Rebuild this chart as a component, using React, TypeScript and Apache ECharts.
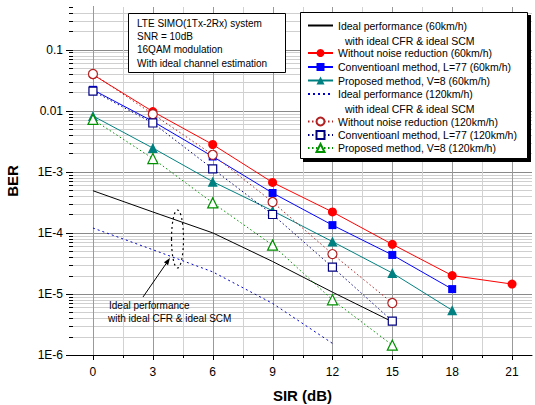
import React, { useEffect, useRef } from 'react';
import * as echarts from 'echarts';

// ---- data ----
const sirDb = [0, 3, 6, 9, 12, 15, 18, 21];
const ber60Ideal = [4.9e-4, 2.2e-4, 1.0e-4, 3.4e-5, 1.07e-5, 3.5e-6];
const ber60Without = [0.039, 0.0097, 0.0028, 6.7e-4, 2.2e-4, 6.5e-5, 2.0e-5, 1.45e-5];
const ber60Conv = [0.022, 0.0067, 1.78e-3, 4.5e-4, 1.34e-4, 4.35e-5, 1.2e-5];
const ber60Prop = [0.0082, 2.45e-3, 6.9e-4, 2.3e-4, 7.2e-5, 2.2e-5, 5.4e-6];
const ber120Ideal = [1.2e-4, 5.3e-5, 2.3e-5, 7.0e-6, 1.55e-6];
const ber120Without = [0.04, 0.0088, 1.9e-3, 3.2e-4, 4.5e-5, 7.1e-6];
const ber120Conv = [0.021, 6.3e-3, 1.12e-3, 2.0e-4, 2.75e-5, 3.6e-6];
const ber120Prop = [0.0072, 1.65e-3, 3.1e-4, 6.3e-5, 8e-6, 1.45e-6];

const xTickValues = [0, 3, 6, 9, 12, 15, 18, 21];
const yDecades = [1e-6, 1e-5, 1e-4, 1e-3, 1e-2, 1e-1];
const yTickLabels = ['1E-6', '1E-5', '1E-4', '1E-3', '0.01', '0.1'];

const names = {
  ideal60: 'Ideal performance (60km/h)',
  without60: 'Without noise reduction (60km/h)',
  conv60: 'Conventioanl method, L=77 (60km/h)',
  prop60: 'Proposed method, V=8 (60km/h)',
  ideal120: 'Ideal performance (120km/h)',
  without120: 'Without noise reduction (120km/h)',
  conv120: 'Conventioanl method, L=77 (120km/h)',
  prop120: 'Proposed method, V=8 (120km/h)',
};

const infoLines = [
  'LTE SIMO(1Tx-2Rx) system',
  'SNR = 10dB',
  '16QAM modulation',
  'With ideal channel estimation',
];

const X_MIN = -1;
const X_MAX = 22;
const Y_MIN = 1e-6;
const Y_MAX = 0.5;

const FONT = 'Arial, "Liberation Sans", sans-serif';

function pairs(vals: number[]) {
  return vals.map((v, i) => [sirDb[i], v]);
}

function buildGridData() {
  const items: any[] = [];
  // horizontal: kind 0 major line+tick, 1 minor line+tick, 2 minor tick only, 5 major tick only
  yDecades.forEach((d, i) => {
    items.push({ value: [0, d, i === 0 ? 5 : 0] });
    for (let m = 2; m <= 9; m++) {
      const v = m * d;
      if (v > Y_MAX + 1e-9) break;
      items.push({ value: [0, v, Math.abs(v - Y_MAX) < 1e-9 ? 2 : 1] });
    }
  });
  // vertical: kind 3 major, 4 minor
  xTickValues.forEach((x) => {
    items.push({ value: [x, Y_MIN, 3] });
    if (x + 1.5 < X_MAX) items.push({ value: [x + 1.5, Y_MIN, 4] });
  });
  return items;
}

export default function App() {
  const ref = useRef<HTMLDivElement>(null);

  useEffect(() => {
    document.body.style.margin = '0';
    const chart = echarts.init(ref.current!, null, { renderer: 'svg' });

    const lineSeries = (
      name: string,
      vals: number[],
      color: string,
      symbol: string,
      size: number,
      dash: any,
      fillColor?: string
    ) => ({
      name,
      type: 'line',
      data: pairs(vals),
      z: 3,
      symbol,
      symbolSize: size,
      showSymbol: symbol !== 'none',
      lineStyle: { color, width: 1, type: dash },
      itemStyle: fillColor
        ? { color: fillColor, borderColor: color, borderWidth: 1.2 }
        : { color, borderColor: color, borderWidth: 0 },
      emphasis: { disabled: true },
    });

    const series: any[] = [
      {
        type: 'custom',
        name: 'grid',
        silent: true,
        z: 1,
        clip: false,
        data: buildGridData(),
        encode: { x: 0, y: 1 },
        renderItem: (params: any, api: any) => {
          const cs = params.coordSys;
          const kind = api.value(2);
          const pt = api.coord([api.value(0), api.value(1)]);
          const children: any[] = [];
          if (kind === 0 || kind === 1 || kind === 2 || kind === 5) {
            const y = Math.round(pt[1]) + 0.5;
            if (kind === 0 || kind === 1) {
              children.push({
                type: 'line',
                shape: { x1: cs.x, y1: y, x2: cs.x + cs.width, y2: y },
                style: { stroke: kind === 0 ? '#8a8a8a' : '#cfcfcf', lineWidth: 1 },
              });
            }
            const len = kind === 0 || kind === 5 ? 7 : 4;
            children.push({
              type: 'line',
              shape: { x1: cs.x - len, y1: y, x2: cs.x, y2: y },
              style: { stroke: '#000', lineWidth: 1 },
            });
          } else {
            const x = Math.round(pt[0]) + 0.5;
            children.push({
              type: 'line',
              shape: { x1: x, y1: cs.y, x2: x, y2: cs.y + cs.height },
              style: { stroke: kind === 3 ? '#9a9a9a' : '#d2d2d2', lineWidth: 1 },
            });
            const len = kind === 3 ? 5 : 3;
            children.push({
              type: 'line',
              shape: { x1: x, y1: cs.y + cs.height, x2: x, y2: cs.y + cs.height + len },
              style: { stroke: '#000', lineWidth: 1 },
            });
          }
          return { type: 'group', children };
        },
      },
      lineSeries(names.ideal60, ber60Ideal, '#000000', 'none', 0, 'solid'),
      lineSeries(names.without60, ber60Without, '#ff0000', 'circle', 9, 'solid'),
      lineSeries(names.conv60, ber60Conv, '#0000ff', 'rect', 8, 'solid'),
      lineSeries(names.prop60, ber60Prop, '#008080', 'triangle', 10, 'solid'),
      lineSeries(names.ideal120, ber120Ideal, '#0000cc', 'none', 0, [2, 3]),
      lineSeries(names.without120, ber120Without, '#b22222', 'circle', 9, [1.5, 2.5], '#ffffff'),
      lineSeries(names.conv120, ber120Conv, '#000080', 'rect', 8, [1.5, 2.5], '#ffffff'),
      lineSeries(names.prop120, ber120Prop, '#009000', 'triangle', 10, [1.5, 2.5], '#ffffff'),
    ];

    const legendRows = [
      { name: names.ideal60, cy: 26, noSymbol: true },
      { name: names.without60, cy: 53.5 },
      { name: names.conv60, cy: 67.5 },
      { name: names.prop60, cy: 81 },
      { name: names.ideal120, cy: 94.5, noSymbol: true },
      { name: names.without120, cy: 122 },
      { name: names.conv120, cy: 135.5 },
      { name: names.prop120, cy: 148.5 },
    ];

    const legends = legendRows.map((r: any) => ({
      data: [r.name],
      left: 307,
      top: r.cy - 6,
      z: 20,
      orient: 'vertical',
      itemWidth: 25,
      itemHeight: 10,
      padding: 0,
      selectedMode: false,
      ...(r.noSymbol ? { itemStyle: { opacity: 0 } } : {}),
      textStyle: { fontSize: 10.5, fontFamily: FONT, color: '#000' },
    }));

    const txt = (text: string, x: number, y: number, extra: any = {}) => ({
      type: 'text',
      z: 10,
      style: {
        text,
        x,
        y,
        fill: '#000',
        font: `10px ${FONT}`,
        verticalAlign: 'middle',
        ...extra,
      },
    });

    // arrow geometry
    const ax1 = 143, ay1 = 297, ax2 = 170, ay2 = 258;
    const dl = Math.hypot(ax2 - ax1, ay2 - ay1);
    const ux = (ax2 - ax1) / dl, uy = (ay2 - ay1) / dl;
    const bx = ax2 - 7 * ux, by = ay2 - 7 * uy;
    const nx = -uy, ny = ux;

    const graphic: any[] = [
      {
        type: 'rect',
        z: 5,
        shape: { x: 128.5, y: 13.5, width: 157, height: 59 },
        style: { fill: '#fff', stroke: '#000', lineWidth: 1 },
      },
      ...infoLines.map((t, i) => txt(t, 137, 23.5 + i * 13.2)),
      {
        type: 'rect',
        z: 5,
        shape: { x: 303, y: 15, width: 228, height: 147 },
        style: { fill: '#000' },
      },
      {
        type: 'rect',
        z: 6,
        shape: { x: 300.5, y: 12.5, width: 227, height: 146 },
        style: { fill: '#fff', stroke: '#000', lineWidth: 1 },
      },
      txt('with ideal CFR & ideal SCM', 345, 40.5, { font: `10.5px ${FONT}` }),
      txt('with ideal CFR & ideal SCM', 345, 108.5, { font: `10.5px ${FONT}` }),
      {
        type: 'ellipse',
        z: 6,
        shape: { cx: 177.5, cy: 239, rx: 6, ry: 29 },
        style: { fill: 'none', stroke: '#000', lineWidth: 1.2, lineDash: [2, 3] },
      },
      {
        type: 'line',
        z: 6,
        shape: { x1: ax1, y1: ay1, x2: bx, y2: by },
        style: { stroke: '#000', lineWidth: 1 },
      },
      {
        type: 'polygon',
        z: 6,
        shape: {
          points: [
            [ax2, ay2],
            [bx + 2.5 * nx, by + 2.5 * ny],
            [bx - 2.5 * nx, by - 2.5 * ny],
          ],
        },
        style: { fill: '#000' },
      },
      txt('Ideal performance', 109, 305),
      txt('with ideal CFR & ideal SCM', 108, 318.5),
    ];

    const option: any = {
      animation: false,
      backgroundColor: '#fff',
      grid: {
        left: 73,
        top: 7,
        right: 3,
        bottom: 50,
        containLabel: false,
        outerBoundsMode: 'none',
      },
      xAxis: {
        type: 'value',
        min: X_MIN,
        max: X_MAX,
        name: 'SIR (dB)',
        nameLocation: 'middle',
        nameGap: 33,
        nameTextStyle: { fontSize: 15, fontWeight: 'bold', fontFamily: FONT, color: '#000' },
        axisLine: { show: true, onZero: false, lineStyle: { color: '#000', width: 1 } },
        axisTick: { show: false },
        splitLine: { show: false },
        axisLabel: {
          customValues: xTickValues,
          margin: 11,
          fontSize: 12,
          fontFamily: FONT,
          color: '#000',
        },
      },
      yAxis: {
        type: 'log',
        logBase: 10,
        min: Y_MIN,
        max: Y_MAX,
        name: 'BER',
        nameLocation: 'middle',
        nameGap: 53,
        nameRotate: 90,
        nameTextStyle: { fontSize: 15, fontWeight: 'bold', fontFamily: FONT, color: '#000' },
        axisLine: { show: true, lineStyle: { color: '#000', width: 1 } },
        axisTick: { show: false },
        splitLine: { show: false },
        minorTick: { show: false },
        axisLabel: {
          margin: 10,
          fontSize: 12,
          fontFamily: FONT,
          color: '#000',
          showMaxLabel: false,
          formatter: (v: number) => {
            const e = Math.log10(v);
            const r = Math.round(e);
            if (Math.abs(e - r) > 0.01) return '';
            const idx = yDecades.findIndex((d) => Math.abs(Math.log10(d) - r) < 0.01);
            return idx >= 0 ? yTickLabels[idx] : '';
          },
        },
      },
      legend: legends,
      series,
      graphic,
    };

    chart.setOption(option);
    return () => chart.dispose();
  }, []);

  return (
    <div
      ref={ref}
      style={{ position: 'fixed', left: 0, top: 0, width: 535, height: 405 }}
    />
  );
}
